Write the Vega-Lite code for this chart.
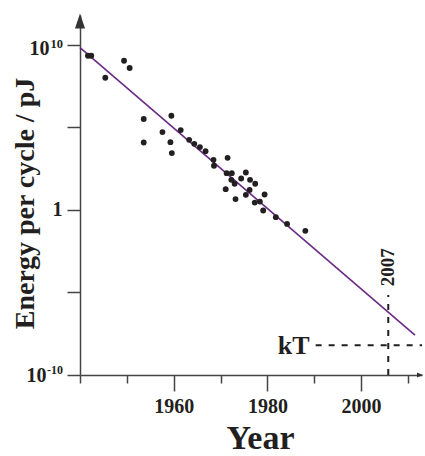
{
  "$schema": "https://vega.github.io/schema/vega-lite/v6.json",
  "width": 342,
  "height": 360,
  "autosize": {"type": "none"},
  "padding": {"left": 80, "top": 15, "right": 3, "bottom": 81},
  "background": "white",
  "config": {"view": {"stroke": null}, "font": "Liberation Serif"},
  "encoding": {
    "x": {
      "field": "x", "type": "quantitative",
      "scale": {"domain": [1940, 2013], "nice": false, "zero": false},
      "axis": {
        "title": "Year", "titleFont": "Liberation Serif", "titleFontSize": 34, "titleFontWeight": "bold",
        "titleColor": "#231f20", "titleX": 180, "titleY": 73, "titleBaseline": "alphabetic", "titleAlign": "center",
        "values": [1940, 1950, 1960, 1970, 1980, 1990, 2000, 2010],
        "format": "d",
        "labelExpr": "(datum.value==1960||datum.value==1980||datum.value==2000) ? datum.label : ''",
        "labelFont": "Liberation Serif", "labelFontSize": 20, "labelFontWeight": "bold", "labelColor": "#231f20",
        "labelPadding": 5, "labelFlush": false, "labelOverlap": false,
        "tickSize": {"condition": {"test": "datum.value==1960||datum.value==1980||datum.value==2000", "value": 16}, "value": 8},
        "tickColor": "#444", "tickWidth": 1.5, "domainColor": "#444", "domainWidth": 1.5, "grid": false
      }
    },
    "y": {
      "field": "y", "type": "quantitative",
      "scale": {"type": "log", "domain": [1e-10, 6.3e11], "nice": false},
      "axis": {
        "title": "Energy per cycle / pJ", "titleFont": "Liberation Serif", "titleFontSize": 28, "titleFontWeight": "bold",
        "titleColor": "#231f20", "titleAngle": 270, "titleX": -47, "titleY": 188, "titleBaseline": "alphabetic", "titleAlign": "center",
        "values": [1e-10, 1e-5, 1, 1e5, 1e10],
        "labelExpr": "(datum.value==1e10 || datum.value==1e-10) ? '10' : (datum.value==1 ? '1' : '')",
        "labelFont": "Liberation Serif", "labelFontSize": 20, "labelFontWeight": "bold", "labelColor": "#231f20",
        "labelPadding": {"condition": [{"test": "datum.value==1", "value": 5}, {"test": "datum.value==1e-10", "value": 21}], "value": 18},
        "labelOffset": {"condition": {"test": "datum.value==1e10", "value": 4}, "value": 0},
        "labelFlush": false, "labelOverlap": false,
        "tickSize": 13,
        "tickColor": "#444", "tickWidth": 1.5, "domainColor": "#444", "domainWidth": 1.5, "grid": false
      }
    }
  },
  "layer": [
    {
      "data": {"values": [{"x": 1990.3, "x2": 2013, "y": 6.3e-9}]},
      "mark": {"type": "rule", "strokeDash": [6, 7], "strokeWidth": 2, "color": "#231f20"},
      "encoding": {"x2": {"field": "x2"}}
    },
    {
      "data": {"values": [{"x": 2005.8, "y": 1e-10, "y2": 7.1e-6}]},
      "mark": {"type": "rule", "strokeDash": [6, 7], "strokeWidth": 2, "color": "#231f20"},
      "encoding": {"y2": {"field": "y2"}}
    },
    {
      "data": {"values": [{"x": 1940, "y": 6.6e9}, {"x": 2011.5, "y": 2.63e-8}]},
      "mark": {"type": "line", "color": "#6a2a85", "strokeWidth": 1.6}
    },
    {
      "data": {"values": [
        {"x": 1941.7, "y": 2.14e9}, {"x": 1942.4, "y": 2.14e9}, {"x": 1949.4, "y": 1.07e9}, {"x": 1950.6, "y": 3.9e8},
        {"x": 1945.4, "y": 1e8}, {"x": 1953.6, "y": 3.16e5}, {"x": 1959.5, "y": 5.0e5}, {"x": 1957.6, "y": 5.1e4},
        {"x": 1961.5, "y": 6.8e4}, {"x": 1953.6, "y": 1.2e4}, {"x": 1959.3, "y": 1.26e4}, {"x": 1959.6, "y": 2.75e3},
        {"x": 1963.3, "y": 1.74e4}, {"x": 1964.4, "y": 1e4}, {"x": 1965.6, "y": 6.3e3}, {"x": 1966.8, "y": 3.6e3},
        {"x": 1968.5, "y": 1.07e3}, {"x": 1968.6, "y": 468}, {"x": 1971.5, "y": 1.41e3}, {"x": 1971.3, "y": 166},
        {"x": 1972.4, "y": 166}, {"x": 1975.4, "y": 182}, {"x": 1972.3, "y": 66}, {"x": 1973.0, "y": 38},
        {"x": 1974.4, "y": 79}, {"x": 1976.3, "y": 66}, {"x": 1977.4, "y": 38}, {"x": 1971.1, "y": 17.8},
        {"x": 1976.2, "y": 16.2}, {"x": 1975.4, "y": 8.1}, {"x": 1979.4, "y": 8.5}, {"x": 1973.2, "y": 4.5},
        {"x": 1977.3, "y": 2.75}, {"x": 1978.4, "y": 3.16}, {"x": 1979.1, "y": 0.91}, {"x": 1981.8, "y": 0.36},
        {"x": 1984.2, "y": 0.141}, {"x": 1988.1, "y": 0.054}
      ]},
      "mark": {"type": "circle", "size": 34, "color": "#231f20", "opacity": 1}
    },
    {
      "data": {"values": [{"x": 1940, "y": 1e10, "label": "10"}]},
      "mark": {"type": "text", "align": "right", "baseline": "alphabetic", "font": "Liberation Serif", "fontSize": 12.5, "fontWeight": "bold", "color": "#231f20", "dx": -17, "dy": 3},
      "encoding": {"text": {"field": "label"}}
    },
    {
      "data": {"values": [{"x": 1940, "y": 1e-10, "label": "-10"}]},
      "mark": {"type": "text", "align": "right", "baseline": "alphabetic", "font": "Liberation Serif", "fontSize": 12, "fontWeight": "bold", "color": "#231f20", "dx": -17, "dy": -1},
      "encoding": {"text": {"field": "label"}}
    },
    {
      "data": {"values": [{"x": 1989, "y": 6.3e-9, "label": "kT"}]},
      "mark": {"type": "text", "align": "right", "baseline": "middle", "font": "Liberation Serif", "fontSize": 26, "fontWeight": "bold", "color": "#231f20", "dy": 1},
      "encoding": {"text": {"field": "label"}}
    },
    {
      "data": {"values": [{"x": 2005.8, "y": 3.3e-4, "label": "2007"}]},
      "mark": {"type": "text", "align": "center", "baseline": "middle", "angle": 270, "font": "Liberation Serif", "fontSize": 19, "fontWeight": "bold", "color": "#231f20"},
      "encoding": {"text": {"field": "label"}}
    },
    {
      "data": {"values": [{"x": 1940, "y": 6.3e11}]},
      "mark": {"type": "point", "shape": "M-0.67,1L0,-1L0.67,1Z", "size": 225, "filled": true, "color": "#333", "opacity": 1, "yOffset": 6}
    },
    {
      "data": {"values": [{"x": 2013, "y": 1e-10}]},
      "mark": {"type": "point", "shape": "M-1,-0.8L1,0L-1,0.8Z", "size": 36, "filled": true, "color": "#333", "opacity": 1, "xOffset": -2}
    }
  ]
}
